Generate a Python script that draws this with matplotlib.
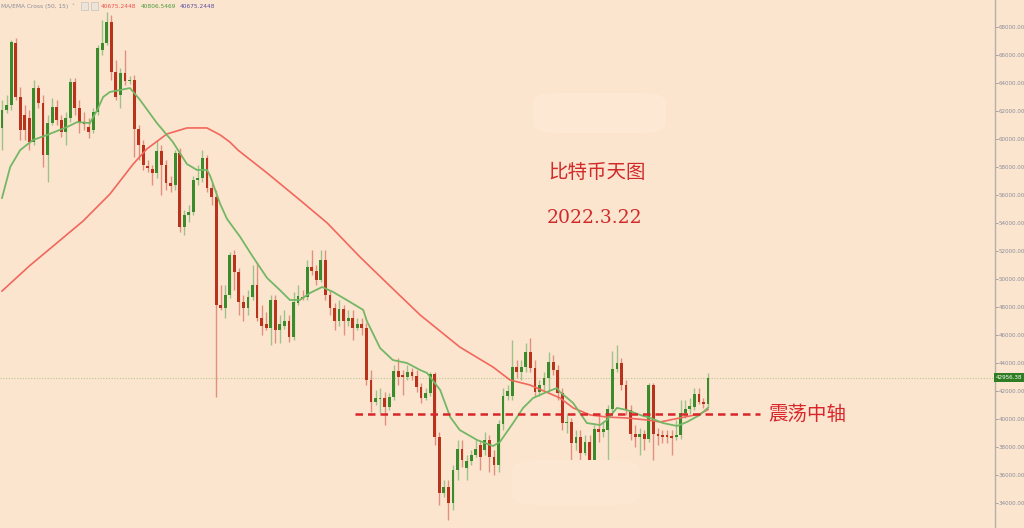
import numpy as np
import matplotlib
matplotlib.use("Agg")
import matplotlib.pyplot as plt
from matplotlib.patches import FancyBboxPatch, Rectangle

# DATA  (daily BTC candles, oldest first)
opens = [60790, 62070, 62430, 66860, 63000, 61710, 61500, 59790, 63640, 62570,
         58860, 61140, 62290, 61360, 60500, 61500, 64070, 62210, 61210, 60860,
         60640, 61930, 66360, 66860, 68360, 64790, 63140, 64710, 64140, 64210,
         60710, 59570, 58070, 57860, 57570, 59140, 58140, 56860, 56710, 59000,
         53710, 54570, 54790, 57070, 57210, 58640, 56500, 55860, 48140, 47930,
         48860, 51710, 50500, 48360, 47930, 48710, 49570, 47210, 46790, 46500,
         48500, 46360, 46640, 47000, 45860, 48290, 48710, 48710, 50860, 50570,
         49930, 51360, 48860, 47930, 47000, 47860, 47000, 47210, 46500, 46790,
         46500, 42790, 41210, 41430, 41500, 40860, 41570, 43430, 43140, 43000,
         43360, 43070, 42290, 41500, 41860, 43210, 38710, 34710, 35140, 34000,
         36360, 37860, 36500, 37000, 37430, 38140, 37790, 38500, 37290, 36710,
         39640, 41640, 41640, 43710, 43360, 43710, 44790, 43640, 41930, 42430,
         42930, 44070, 43500, 41860, 39710, 39790, 38290, 38710, 37570, 38360,
         35710, 39290, 39070, 39210, 40710, 43570, 44000, 42430, 40640, 38930,
         38710, 38930, 38570, 42430, 38930, 38860, 38860, 38790, 38720, 38860,
         40430, 40710, 40860, 41790, 41210, 41070]
highs = [62790, 63140, 67070, 67210, 63710, 62430, 62070, 64210, 63860, 63140,
         61710, 62930, 62790, 61710, 61930, 64360, 64360, 62790, 61930, 61500,
         62210, 66710, 68500, 69070, 68860, 65640, 65070, 66360, 64500, 64570,
         61000, 59930, 58500, 58140, 59930, 59570, 58500, 57360, 59210, 59360,
         54930, 55290, 57360, 58140, 59210, 58860, 56860, 56360, 49570, 49570,
         51930, 52070, 50790, 48860, 49210, 51000, 51210, 48140, 47640, 48860,
         48860, 47430, 47790, 47430, 49070, 49570, 49210, 51360, 52070, 51000,
         52070, 52070, 49210, 48290, 48500, 48140, 47790, 47790, 47210, 47210,
         46860, 43500, 42070, 42210, 41930, 41860, 43860, 44360, 43500, 43860,
         43640, 43500, 42570, 42210, 43360, 43360, 39070, 35640, 35640, 36710,
         38500, 38500, 37430, 37790, 38500, 38500, 39070, 38860, 37790, 39930,
         42210, 42430, 45640, 44210, 44210, 45430, 45790, 44210, 42790, 43360,
         44790, 44570, 43860, 42210, 40430, 40070, 39210, 39210, 38860, 38860,
         39570, 40290, 39790, 40990, 44860, 45290, 44360, 42790, 41000, 39570,
         39360, 39210, 42570, 42570, 39360, 39210, 39210, 39210, 39930, 41360,
         41360, 41500, 42210, 42210, 41500, 43290]
lows = [59210, 61860, 62070, 62790, 59930, 59930, 59210, 59570, 62210, 58000,
        56930, 61000, 61000, 60140, 59570, 61210, 61710, 60430, 60640, 60070,
        60430, 61710, 66000, 66710, 64210, 62790, 62210, 63860, 63930, 58710,
        58500, 57790, 57640, 56710, 57210, 56000, 56360, 56210, 56360, 53360,
        53140, 54070, 54570, 56710, 56930, 56210, 55290, 41570, 47790, 47210,
        48640, 49210, 47430, 47000, 47430, 48500, 47000, 46000, 46360, 45290,
        45430, 45430, 46430, 45500, 45640, 48140, 48500, 48500, 50290, 49570,
        49790, 48500, 47430, 46360, 46640, 46000, 46640, 45640, 46360, 46000,
        42430, 40500, 41000, 40430, 39570, 40640, 41360, 42430, 41710, 42790,
        42790, 41930, 41140, 41360, 41640, 38140, 33860, 34430, 32790, 33500,
        35640, 36570, 35640, 36710, 37290, 36360, 37430, 36210, 36000, 36210,
        39210, 41360, 41360, 42930, 42790, 43360, 43360, 41640, 41640, 42070,
        41930, 43140, 41360, 39210, 39000, 37070, 37790, 36210, 37430, 34210,
        35500, 38360, 38710, 36860, 40500, 43360, 42070, 40290, 38500, 38000,
        37430, 37790, 38360, 37070, 38140, 38290, 38290, 37430, 38500, 38570,
        40070, 40360, 40640, 41070, 40790, 40860]
closes = [62070, 62430, 66930, 63000, 60640, 60640, 59790, 63640, 62570, 58860,
          61140, 62290, 61360, 60500, 61500, 64070, 62210, 61140, 61070, 60500,
          61930, 66500, 66860, 68360, 64790, 63000, 64710, 64140, 64210, 60710,
          59570, 58140, 57930, 57570, 59140, 58140, 56860, 56640, 59000, 53710,
          54570, 54790, 57070, 57210, 58640, 56500, 55860, 48140, 47930, 48860,
          51710, 50500, 48360, 47930, 48710, 49570, 47210, 46640, 46500, 48500,
          46360, 46790, 47000, 45860, 48360, 48790, 48640, 50860, 50570, 49930,
          51360, 48860, 47930, 47000, 47860, 47000, 47210, 46500, 46790, 46500,
          42790, 41210, 41500, 41500, 40860, 41570, 43430, 43000, 43000, 43360,
          43070, 42290, 41500, 41860, 43210, 38710, 34710, 35140, 34000, 36360,
          37860, 37070, 37000, 37430, 37860, 37290, 38500, 37290, 36710, 39640,
          41640, 42000, 43710, 43360, 43710, 44790, 43640, 41930, 42430, 42930,
          44070, 43500, 41860, 39710, 39790, 38290, 38710, 37570, 38360, 35710,
          39290, 39070, 39290, 40710, 43570, 44000, 42430, 40640, 38930, 38710,
          38930, 38570, 42430, 38930, 38790, 38720, 38720, 38640, 38860, 40430,
          40710, 40930, 41790, 41210, 41070, 42960]

# MA(50) red line and EMA(15) green line, read at candle positions
ma50_idx = [0, 6, 17.8, 23.7, 28.8, 31.8, 36.2, 40.6, 45, 47.9, 50, 51.8, 58.2, 65.4,
            71.4, 78.6, 84.5, 91.8, 100.5, 107.8, 111.5, 115.9, 122.5, 125.4, 129.1,
            132.8, 137.2, 141.6, 144.5, 148.8, 153.2, 155]
ma50_val = [49140, 50930, 54140, 56070, 58210, 59290, 60360, 60790, 60790, 60290, 59790,
            59210, 57570, 55640, 54000, 51570, 49710, 47430, 45140, 43710, 42790, 42430,
            41500, 40790, 40290, 40140, 40070, 39930, 39790, 40070, 40360, 40675]
ema15_idx = [0, 1.8, 4, 6.8, 9.9, 14.3, 16.5, 19.3, 20.9, 22.2, 23.7, 28.1, 30.3, 34,
             37.5, 40.6, 42.8, 45, 45.7, 47.9, 49.4, 52.3, 55.1, 58.2, 61, 63.2, 65.4,
             67.6, 70.3, 72.7, 76.4, 79.3, 80.1, 83, 85.8, 88.9, 91.8, 93.3, 96.2, 98.4,
             100.5, 104.3, 107.8, 109.3, 112.2, 114.4, 116.6, 119.6, 121.8, 122.5, 125.4,
             128.4, 131.3, 132.8, 135, 137.2, 140.1, 142.3, 145.1, 148.2, 150.4, 153.2, 155]
ema15_val = [55790, 58000, 59210, 59930, 60290, 60860, 61210, 61140, 62070, 63000, 63360,
             63640, 62790, 61140, 59790, 58210, 57790, 57790, 57360, 55360, 54290, 53000,
             51570, 50070, 49210, 48500, 48500, 49000, 49430, 49070, 48360, 47790, 47000,
             45070, 44210, 44000, 43500, 43290, 42070, 40140, 39210, 38500, 38070, 38360,
             39710, 40790, 41500, 41930, 42210, 41930, 41140, 39710, 39570, 39930, 40790,
             40640, 40290, 40070, 39710, 39500, 39790, 40290, 40806]

last_price = 42956.38
pivot_price = 40360
legend_vals = ["40675.2448", "40806.5469", "40675.2448"]
yticks = list(range(34000, 68001, 2000))

# COLOURS
bg = "#fce5cf"
up_c, dn_c = "#3b8a2c", "#b9321c"
up_w, dn_w = "#9cc38a", "#e0917e"

fig = plt.figure(figsize=(10.24, 5.28), dpi=100)
fig.patch.set_facecolor(bg)
ax = fig.add_axes([0, 0, 995 / 1024, 1])
ax.set_facecolor(bg)

# faint light blobs (watermark remnants)
fig.patches.append(FancyBboxPatch((533 / 1024, 1 - 133 / 528), 133 / 1024, 40 / 528,
                                  boxstyle="round,pad=0.0,rounding_size=0.02",
                                  transform=fig.transFigure, fc="#fde8d4", ec="none", zorder=0))
fig.patches.append(FancyBboxPatch((512 / 1024, 1 - 505 / 528), 128 / 1024, 45 / 528,
                                  boxstyle="round,pad=0.0,rounding_size=0.02",
                                  transform=fig.transFigure, fc="#fce7d3", ec="none", zorder=0))

o = np.array(opens); h = np.array(highs); l = np.array(lows); c = np.array(closes)
x = np.arange(len(o))
up = c >= o

# CANDLES
ax.vlines(x[up], l[up], h[up], color=up_w, lw=1.0, zorder=2)
ax.vlines(x[~up], l[~up], h[~up], color=dn_w, lw=1.0, zorder=2)
body = np.maximum(np.abs(c - o), 70)
ax.bar(x[up], body[up], bottom=np.minimum(o, c)[up], width=0.62, color=up_c, zorder=3)
ax.bar(x[~up], body[~up], bottom=np.minimum(o, c)[~up], width=0.62, color=dn_c, zorder=3)

# MOVING AVERAGES
ax.plot(ma50_idx, ma50_val, color="#f2675c", lw=1.2, zorder=4)
ax.plot(ema15_idx, ema15_val, color="#73b765", lw=1.3, zorder=4)

# last price line
ax.axhline(last_price, color="#b9c48f", lw=0.8, ls=(0, (1, 1.5)), zorder=1)

# pivot line + label
ax.hlines(pivot_price, 77.5, 166.4, color="#d8262a", lw=1.8, ls=(0, (3, 2)), zorder=5)
ax.text(168.3, pivot_price, "震荡中轴", color="#d8262a", fontsize=14,
        family=["Noto Sans CJK SC", "DejaVu Sans"], va="center", ha="left")

# TITLE TEXTS
fig.text(597 / 1024, 1 - 172 / 528, "比特币天图", color="#d02a2a", fontsize=14,
         family=["Noto Sans CJK SC", "DejaVu Sans"], ha="center", va="center")
fig.text(595 / 1024, 1 - 218 / 528, "2022.3.22", color="#d02a2a", fontsize=13.5,
         family="DejaVu Serif", ha="center", va="center")

# AXES
ax.set_xlim(-0.44, 218.0)
ax.set_ylim(32214, 69929)
ax.xaxis.set_visible(False)
ax.yaxis.tick_right()
ax.set_yticks(yticks)
ax.set_yticklabels([f"{v:.2f}" for v in yticks])
ax.tick_params(axis="y", length=2.0, width=0.6, color="#9a948c", labelsize=4.1,
               labelcolor="#8a8e9a", pad=0.8)
for s in ["top", "left", "bottom"]:
    ax.spines[s].set_visible(False)
ax.spines["right"].set_color("#b5afa6")
ax.spines["right"].set_linewidth(1.0)

# last price tag on the axis
ax.text(1.001, last_price, f"{last_price:.2f}", transform=ax.get_yaxis_transform(),
        fontsize=4.1, color="white", va="center", ha="left", zorder=6, clip_on=False,
        bbox=dict(boxstyle="square,pad=0.3", fc="#2f7d23", ec="none"))

# INDICATOR LEGEND (top left)
fig.text(0.001, 1 - 6 / 528, "MA/EMA Cross (50, 15)  \u02c5", fontsize=4.2, color="#8a8e9a",
         ha="left", va="center")
fig.patches.append(Rectangle((81 / 1024, 1 - 10 / 528), 7 / 1024, 8 / 528,
                             transform=fig.transFigure, fc="#ece4da", ec="#c8c2ba", lw=0.5))
fig.patches.append(Rectangle((91 / 1024, 1 - 10 / 528), 7 / 1024, 8 / 528,
                             transform=fig.transFigure, fc="#ece4da", ec="#c8c2ba", lw=0.5))
fig.text(101 / 1024, 1 - 6 / 528, legend_vals[0], fontsize=4.2, color="#f0504a", ha="left", va="center")
fig.text(141 / 1024, 1 - 6 / 528, legend_vals[1], fontsize=4.2, color="#4c9a3c", ha="left", va="center")
fig.text(180 / 1024, 1 - 6 / 528, legend_vals[2], fontsize=4.2, color="#5a4fa0", ha="left", va="center")

fig.savefig("out.png", dpi=100, facecolor=bg)
